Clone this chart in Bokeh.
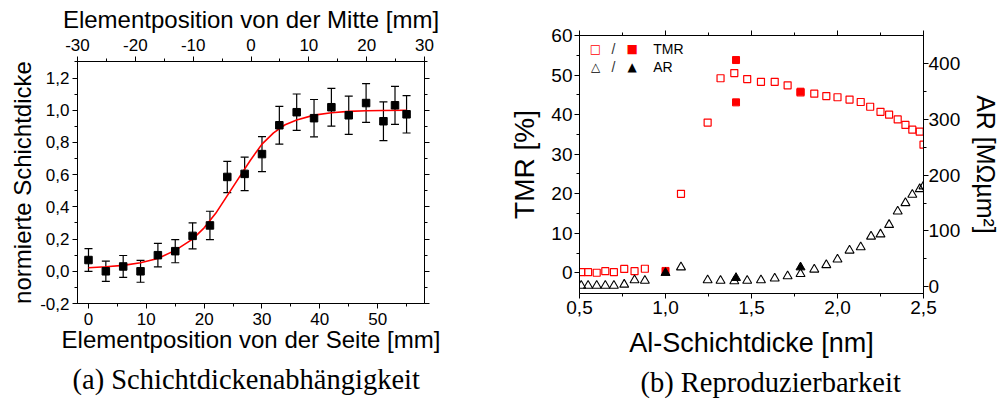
from bokeh.plotting import figure
from bokeh.models import (LinearAxis, Range1d, FixedTicker, ColumnDataSource, Whisker,
                          TeeHead, Label, Title, CustomJSTickFormatter)
from bokeh.layouts import row
from bokeh.embed import file_html
from bokeh.resources import INLINE

# ---------------- data: left panel ----------------
pos_side = [0, 3, 6, 9, 12, 15, 18, 21, 24, 27, 30, 33, 36, 39, 42, 45, 48, 51, 53, 55]
thickness = [0.07, 0.0, 0.03, 0.0, 0.10, 0.125, 0.22, 0.285, 0.586, 0.605, 0.728, 0.907,
             0.988, 0.951, 1.019, 0.969, 1.045, 0.932, 1.031, 0.975]
thick_err = [0.071, 0.063, 0.068, 0.068, 0.073, 0.072, 0.081, 0.088, 0.097, 0.104, 0.109,
             0.117, 0.113, 0.116, 0.117, 0.119, 0.120, 0.120, 0.118, 0.116]
fit_x = [0, 3, 6, 9, 12, 15, 18, 20, 22, 24, 26, 28, 30, 32, 34, 36, 39, 42, 45, 48, 51, 55]
fit_y = [0.022, 0.028, 0.037, 0.053, 0.08, 0.13, 0.20, 0.27, 0.36, 0.47, 0.58, 0.69, 0.79,
         0.86, 0.91, 0.94, 0.97, 0.985, 0.993, 0.997, 0.999, 1.0]
side_ticks = [0, 10, 20, 30, 40, 50]
middle_ticks = [-30, -20, -10, 0, 10, 20, 30]
thick_ticks = [-0.2, 0.0, 0.2, 0.4, 0.6, 0.8, 1.0, 1.2]

# ---------------- data: right panel ----------------
tmr_x = [0.51, 0.55, 0.60, 0.65, 0.70, 0.76, 0.82, 0.88, 1.09, 1.245, 1.32, 1.40, 1.475,
         1.555, 1.635, 1.71, 1.785, 1.865, 1.935, 2.00, 2.07, 2.135, 2.19, 2.25, 2.30, 2.35,
         2.395, 2.435, 2.478, 2.50]
tmr_y = [0.2, 0.2, 0.05, 0.45, 0.2, 1.0, 0.45, 1.05, 20.0, 38.0, 49.2, 50.5, 49.0,
         48.3, 48.3, 47.4, 45.6, 45.3, 44.7, 44.4, 43.8, 43.2, 42.0, 40.7, 40.0, 38.8,
         37.4, 36.2, 35.7, 32.4]
tmr_rep_x = [1.0, 1.41, 1.41, 1.785]
tmr_rep_y = [0.5, 53.8, 43.1, 45.8]
ar_x = [0.51, 0.55, 0.60, 0.65, 0.70, 0.76, 0.82, 0.88, 1.09, 1.245, 1.32, 1.40, 1.475,
        1.555, 1.635, 1.71, 1.785, 1.865, 1.935, 2.00, 2.07, 2.135, 2.195, 2.25, 2.30, 2.35,
        2.395, 2.435, 2.478, 2.50]
ar_y = [2, 2, 2, 2, 2, 4, 12, 11, 35, 12, 11, 10, 11, 12, 15, 19, 23, 31, 39, 49, 65, 71,
        90, 94, 111, 135, 150, 165, 175, 180]
ar_rep_x = [1.0, 1.41, 1.785]
ar_rep_y = [25, 16, 35]
al_ticks = [0.5, 1.0, 1.5, 2.0, 2.5]
tmr_ticks = [0, 10, 20, 30, 40, 50, 60]
ar_ticks = [0, 100, 200, 300, 400]

FONT = "Liberation Sans"
comma1 = CustomJSTickFormatter(code="return tick.toFixed(1).replace('.', ',');")
integer = CustomJSTickFormatter(code="return tick.toFixed(0);")
blank = CustomJSTickFormatter(code="return '';")


def style(ax, tick_size, label_size):
    ax.axis_line_color = "black"
    ax.axis_line_width = 1
    ax.major_tick_line_color = "black"
    ax.minor_tick_line_color = "black"
    ax.major_tick_in = 0
    ax.major_tick_out = 5
    ax.minor_tick_in = 0
    ax.minor_tick_out = 3
    ax.major_label_text_font = FONT
    ax.major_label_text_font_size = tick_size
    ax.major_label_text_color = "black"
    ax.axis_label_text_font = FONT
    ax.axis_label_text_font_size = label_size
    ax.axis_label_text_font_style = "normal"
    ax.axis_label_text_color = "black"


def minors(ticks, step):
    return [t + step for t in ticks[:-1]] + [ticks[-1] + step]


def base_fig(**kw):
    p = figure(output_backend="svg", toolbar_location=None, **kw)
    p.xaxis.visible = False
    p.yaxis.visible = False
    p.grid.visible = False
    p.outline_line_color = "black"
    p.background_fill_color = "white"
    p.border_fill_color = "white"
    p.frame_align = False
    return p


# ================= left figure =================
p1 = base_fig(width=500, height=408, x_range=Range1d(-1.9, 58.1), y_range=Range1d(-0.2, 1.303),
              min_border_left=77, min_border_right=76, min_border_top=59, min_border_bottom=105)
p1.extra_x_ranges = {"mid": Range1d(-30, 30)}

ax_b = LinearAxis(axis_label="Elementposition von der Seite [mm]", formatter=integer,
                  ticker=FixedTicker(ticks=side_ticks, minor_ticks=minors(side_ticks, 5)))
style(ax_b, "17px", "24px")
ax_b.major_label_standoff = 4
ax_b.axis_label_standoff = -2
p1.add_layout(ax_b, "below")

ax_t = LinearAxis(x_range_name="mid", formatter=integer,
                  ticker=FixedTicker(ticks=middle_ticks, minor_ticks=minors(middle_ticks, 5)[:-1]))
style(ax_t, "17px", "24px")
ax_t.major_label_standoff = 6
p1.add_layout(ax_t, "above")
p1.add_layout(Title(text="Elementposition von der Mitte [mm]", text_font=FONT,
                    text_font_size="24px", text_font_style="normal", text_color="black",
                    align="center", offset=0, standoff=6), "above")

ax_l = LinearAxis(axis_label="normierte Schichtdicke", formatter=comma1,
                  ticker=FixedTicker(ticks=thick_ticks, minor_ticks=minors(thick_ticks, 0.1)))
style(ax_l, "17px", "24px")
ax_l.major_label_standoff = 3
ax_l.axis_label_standoff = 1
p1.add_layout(ax_l, "left")

ax_r = LinearAxis(formatter=blank,
                  ticker=FixedTicker(ticks=thick_ticks, minor_ticks=minors(thick_ticks, 0.1)))
style(ax_r, "1px", "1px")
ax_r.major_label_standoff = 0
p1.add_layout(ax_r, "right")

src1 = ColumnDataSource(dict(x=pos_side, y=thickness,
                             upper=[a + b for a, b in zip(thickness, thick_err)],
                             lower=[a - b for a, b in zip(thickness, thick_err)]))
p1.line(fit_x, fit_y, line_color="#ff0000", line_width=1.6)
p1.add_layout(Whisker(source=src1, base="x", upper="upper", lower="lower",
                      line_color="black", line_width=1.2,
                      upper_head=TeeHead(size=8, line_color="black", line_width=1.2),
                      lower_head=TeeHead(size=8, line_color="black", line_width=1.2)))
p1.scatter("x", "y", source=src1, marker="square", size=7.5, fill_color="black",
           line_color="black")

p1.add_layout(Title(text="(a) Schichtdickenabhängigkeit", text_font="Liberation Serif",
                    text_font_size="28.5px", text_font_style="normal", text_color="black",
                    align="left", offset=-5, standoff=13), "below")

# ================= right figure =================
p2 = base_fig(width=503, height=408, x_range=Range1d(0.5, 2.5), y_range=Range1d(-5.2, 60),
              min_border_left=79, min_border_right=77, min_border_top=35, min_border_bottom=115)
p2.extra_y_ranges = {"ar": Range1d(-12, 450)}

bx = LinearAxis(axis_label="Al-Schichtdicke [nm]", formatter=comma1,
                ticker=FixedTicker(ticks=al_ticks, minor_ticks=minors(al_ticks, 0.25)[:-1]))
style(bx, "19px", "27px")
bx.major_label_standoff = 2
bx.axis_label_standoff = 11
p2.add_layout(bx, "below")

tx = LinearAxis(formatter=blank,
                ticker=FixedTicker(ticks=al_ticks, minor_ticks=minors(al_ticks, 0.25)[:-1]))
style(tx, "1px", "1px")
tx.major_label_standoff = 0
p2.add_layout(tx, "above")

ly = LinearAxis(axis_label="TMR [%]", formatter=integer,
                ticker=FixedTicker(ticks=tmr_ticks, minor_ticks=minors(tmr_ticks, 5)[:-1]))
style(ly, "19px", "28px")
ly.major_label_standoff = 2
ly.axis_label_standoff = 8
p2.add_layout(ly, "left")

ry = LinearAxis(y_range_name="ar", axis_label="AR [MΩµm²]", formatter=integer,
                ticker=FixedTicker(ticks=ar_ticks, minor_ticks=minors(ar_ticks, 50)[:-1]))
style(ry, "19px", "25px")
ry.major_label_standoff = 0
ry.axis_label_standoff = 9
p2.add_layout(ry, "right")

p2.scatter(tmr_x, tmr_y, marker="square", size=7, fill_color=None, line_color="#ff0000",
           line_width=1.2)
p2.scatter(ar_x, ar_y, y_range_name="ar", marker="triangle", size=9, fill_color=None,
           line_color="black", line_width=1.1)
p2.scatter(tmr_rep_x, tmr_rep_y, marker="square", size=7, fill_color="#ff0000",
           line_color="#ff0000")
p2.scatter(ar_rep_x, ar_rep_y, y_range_name="ar", marker="triangle", size=9,
           fill_color="black", line_color="black")

legend_rows = [("□", "■", "TMR", "#ff0000", 245), ("△", "▲", "AR", "black", 226.6)]
for open_sym, full_sym, name, col, yy in legend_rows:
    p2.add_layout(Label(x=16, y=yy, x_units="screen", y_units="screen", text=open_sym,
                        text_font="DejaVu Sans", text_font_size="12px", text_color=col,
                        text_align="center", text_baseline="middle"))
    p2.add_layout(Label(x=34, y=yy, x_units="screen", y_units="screen", text="/",
                        text_font=FONT, text_font_size="14px", text_color="#333333",
                        text_align="center", text_baseline="middle"))
    p2.add_layout(Label(x=52.7, y=yy, x_units="screen", y_units="screen", text=full_sym,
                        text_font="DejaVu Sans", text_font_size="12px", text_color=col,
                        text_align="center", text_baseline="middle"))
    p2.add_layout(Label(x=73.7, y=yy, x_units="screen", y_units="screen", text=name,
                        text_font=FONT, text_font_size="14px", text_color="black",
                        text_align="left", text_baseline="middle"))

p2.add_layout(Title(text="(b) Reproduzierbarkeit", text_font="Liberation Serif",
                    text_font_size="28.5px", text_font_style="normal", text_color="black",
                    align="left", offset=61, standoff=9), "below")

layout = row(p1, p2)
open("out.html", "w").write(file_html(layout, INLINE))
